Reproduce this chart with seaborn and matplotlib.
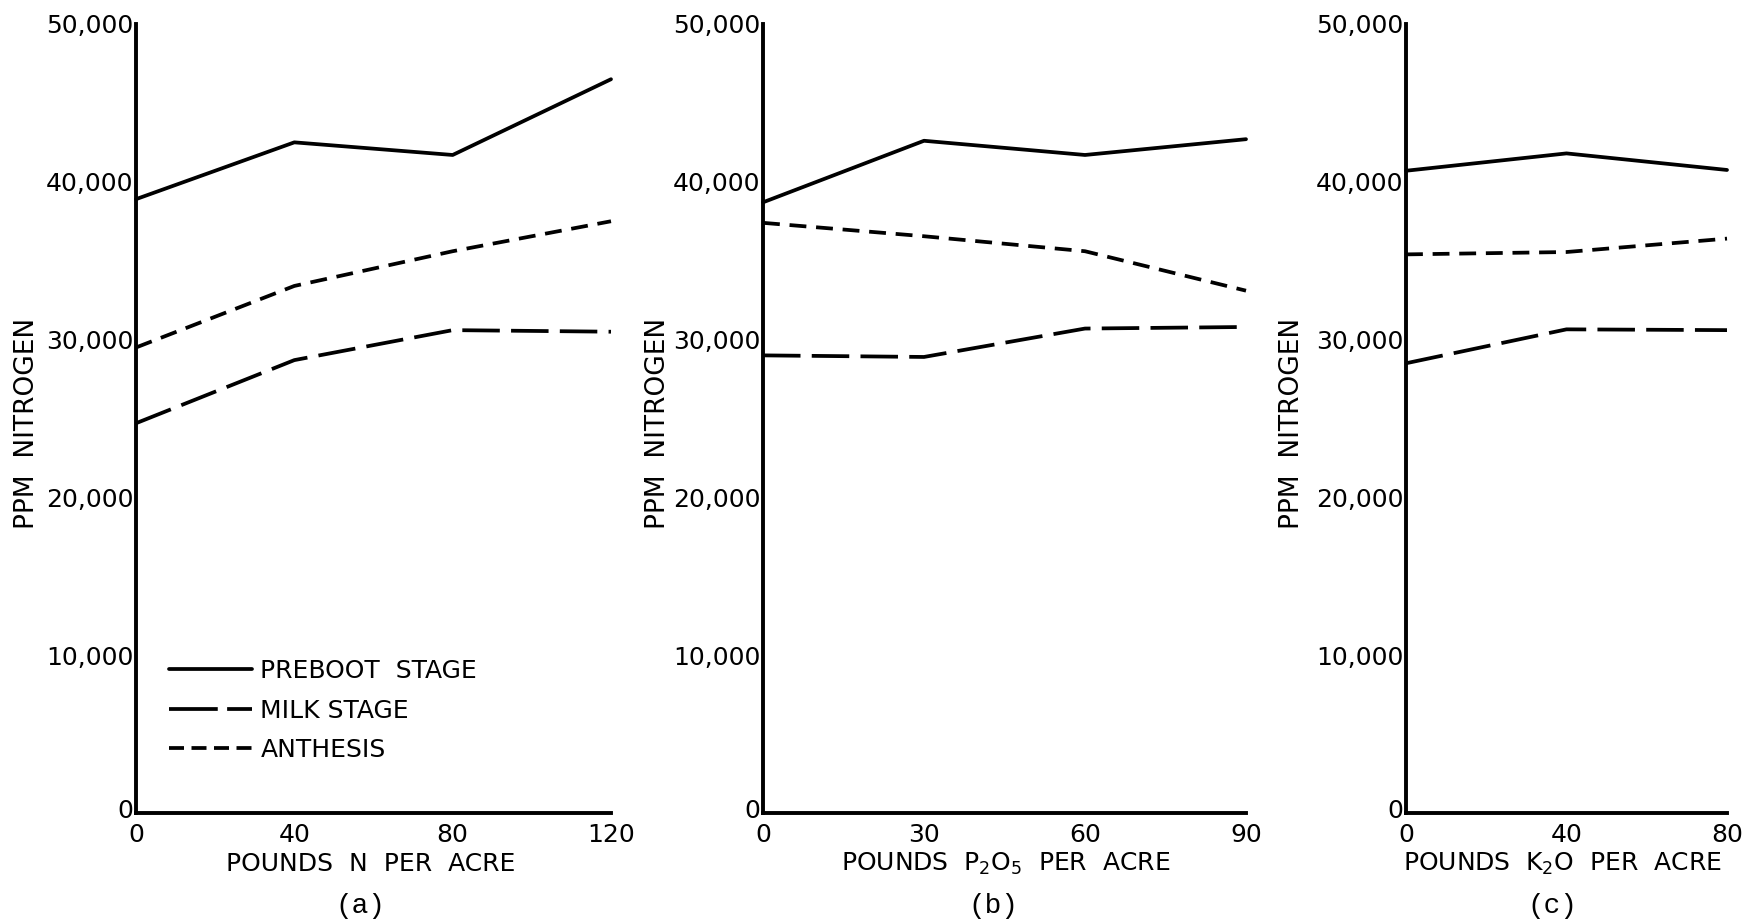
import matplotlib
matplotlib.use("Agg")
import matplotlib.pyplot as plt
import matplotlib.transforms as mtransforms
import seaborn as sns
import pandas as pd

# ---- data ----
stages = ["PREBOOT  STAGE", "MILK STAGE", "ANTHESIS"]

n_rates = [0, 40, 80, 120]
n_preboot = [38900, 42500, 41700, 46500]
n_milk = [24700, 28700, 30600, 30500]
n_anthesis = [29500, 33400, 35600, 37500]

p_rates = [0, 30, 60, 90]
p_preboot = [38700, 42600, 41700, 42700]
p_milk = [29000, 28900, 30700, 30800]
p_anthesis = [37400, 36550, 35600, 33100]

k_rates = [0, 40, 80]
k_preboot = [40700, 41800, 40750]
k_milk = [28500, 30650, 30600]
k_anthesis = [35400, 35550, 36400]

x_labels = ["POUNDS  N  PER  ACRE",
            r"POUNDS  P$_{\mathregular{2}}$O$_{\mathregular{5}}$  PER  ACRE",
            r"POUNDS  K$_{\mathregular{2}}$O  PER  ACRE"]
panel_tags = ["(a)", "(b)", "(c)"]
y_ticks = [0, 10000, 20000, 30000, 40000, 50000]


def frame(rates, pre, milk, anth):
    rows = []
    for s, vals in zip(stages, [pre, milk, anth]):
        for r, v in zip(rates, vals):
            rows.append({"rate": r, "ppm": v, "stage": s})
    return pd.DataFrame(rows)


panels = [
    (n_rates, frame(n_rates, n_preboot, n_milk, n_anthesis)),
    (p_rates, frame(p_rates, p_preboot, p_milk, p_anthesis)),
    (k_rates, frame(k_rates, k_preboot, k_milk, k_anthesis)),
]

sns.set_theme(style="white")
plt.rcParams["font.family"] = ["DejaVu Sans"]
plt.rcParams["text.color"] = "black"
plt.rcParams["axes.labelcolor"] = "black"

W, H = 1743, 919
fig = plt.figure(figsize=(W / 100, H / 100), dpi=100)
fig.patch.set_facecolor("white")

top_px, bot_px = 24, 813
lefts = [136, 763, 1406]
rights = [611, 1246, 1727]
ylab_x = [27, 658, 1292]
xlab_x = [371, 1006, 1562]
tag_x = [360, 993, 1552]

LW = 2.7
palette = {s: "black" for s in stages}
dashes = {stages[0]: "", stages[1]: (10, 3), stages[2]: (4.5, 2.6)}

for i, (rates, df) in enumerate(panels):
    l, r = lefts[i], rights[i]
    ax = fig.add_axes([l / W, 1 - bot_px / H, (r - l) / W, (bot_px - top_px) / H])
    sns.lineplot(data=df, x="rate", y="ppm", hue="stage", style="stage",
                 palette=palette, dashes=dashes, linewidth=LW, ax=ax,
                 legend=(i == 0), sort=False)
    for ln in ax.get_lines():
        ln.set_clip_on(False)
    ax.set_xlim(0, rates[-1])
    ax.set_ylim(0, 50000)
    ax.set_xticks(rates)
    ax.set_xticklabels([str(v) for v in rates])
    ax.set_yticks(y_ticks)
    ax.set_yticklabels([f"{v:,}" for v in y_ticks])
    for side in ["top", "right"]:
        ax.spines[side].set_visible(False)
    for side in ["left", "bottom"]:
        ax.spines[side].set_linewidth(2.8)
        ax.spines[side].set_color("black")
    ax.tick_params(axis="both", direction="in", length=10, width=2.2,
                   colors="black", labelsize=18, pad=2)
    ax.tick_params(axis="x", pad=7)
    # lift the y-axis "0" a little so it clears the x-axis "0"
    zero_lbl = ax.get_yticklabels()[0]
    zero_lbl.set_transform(zero_lbl.get_transform() +
                           mtransforms.ScaledTranslation(0, 5 / 100, fig.dpi_scale_trans))
    ax.set_xlabel("")
    ax.set_ylabel("")
    ax.set_facecolor("white")

    fig.text(ylab_x[i] / W, 1 - 423 / H, "PPM  NITROGEN", rotation=90,
             ha="center", va="center", fontsize=19, color="black")
    fig.text(xlab_x[i] / W, 1 - 864 / H, x_labels[i], ha="center",
             va="center", fontsize=18, color="black")
    fig.text(tag_x[i] / W, 1 - 906 / H, panel_tags[i], ha="center",
             va="center", fontsize=20, color="black",
             family=["Liberation Mono"])

    if i == 0:
        leg = ax.legend(loc="upper left", bbox_to_anchor=(0.07, 0.195),
                        frameon=False, fontsize=18, handlelength=3.3,
                        handletextpad=0.35, labelspacing=0.62,
                        borderpad=0, borderaxespad=0)
        for t in leg.get_texts():
            t.set_color("black")
        hl = leg.get_lines()
        for h in hl:
            h.set_linewidth(LW)
        hl[1].set_dashes((13, 2.5))
        hl[2].set_dashes((4.0, 2.0))

fig.savefig("out.png", dpi=100, facecolor="white")
